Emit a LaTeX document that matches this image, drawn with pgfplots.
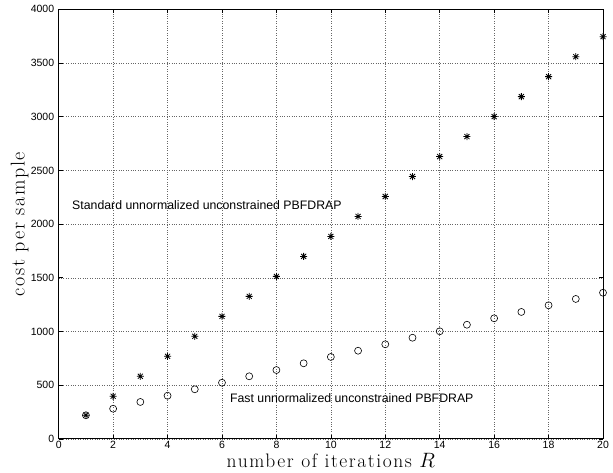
\documentclass[border=0pt]{standalone}
\usepackage{pgfplots}
\pgfplotsset{compat=1.18}
\usepackage{fontspec}
\setmainfont{Liberation Sans}
\newfontfamily\lmr[LetterSpace=8]{Latin Modern Roman}
\pgfdeclareplotmark{mstar}{%
  \pgfpathmoveto{\pgfqpoint{-\pgfplotmarksize}{0pt}}\pgfpathlineto{\pgfqpoint{\pgfplotmarksize}{0pt}}%
  \pgfpathmoveto{\pgfqpoint{0pt}{-\pgfplotmarksize}}\pgfpathlineto{\pgfqpoint{0pt}{\pgfplotmarksize}}%
  \pgfpathmoveto{\pgfqpoint{-0.72\pgfplotmarksize}{-0.72\pgfplotmarksize}}\pgfpathlineto{\pgfqpoint{0.72\pgfplotmarksize}{0.72\pgfplotmarksize}}%
  \pgfpathmoveto{\pgfqpoint{-0.72\pgfplotmarksize}{0.72\pgfplotmarksize}}\pgfpathlineto{\pgfqpoint{0.72\pgfplotmarksize}{-0.72\pgfplotmarksize}}%
  \pgfusepathqstroke}
\begin{document}
\begin{tikzpicture}
\useasboundingbox (-58.7pt,-34.1pt) rectangle (554.3pt,438.9pt);
\begin{axis}[
  at={(0pt,0pt)}, anchor=south west,
  scale only axis, width=544.3pt, height=429.6pt,
  xmin=0, xmax=20, ymin=0, ymax=4000,
  xtick={0,2,...,20}, ytick={0,500,...,4000},
  tick align=inside, major tick length=4pt,
  tick style={black, line width=0.6pt},
  axis line style={black, line width=0.9pt},
  grid=major, major grid style={dotted, gray!80!black, line width=0.5pt},
  ticklabel style={font=\fontsize{10.5}{12}\selectfont},
  /pgf/number format/assume math mode=true,
  /pgf/number format/1000 sep={},
  scaled y ticks=false,
  xlabel={\lmr\fontsize{19.5}{21}\selectfont number of iterations $R$},
  ylabel={\lmr\fontsize{20}{22}\selectfont cost per sample},
  xlabel style={at={(axis description cs:0.5,0)}, anchor=north, inner sep=0pt, yshift=-14.5pt},
  ylabel style={at={(axis description cs:0,0.5)}, anchor=south, inner sep=0pt, yshift=30pt},
  yticklabel style={xshift=-1pt},
  xticklabel style={yshift=1pt},
  clip=false,
]
\addplot[only marks, mark=mstar, mark size=3.5pt, mark options={line width=0.8pt}] coordinates {
(1,220) (2,397) (3,583) (4,769) (5,955) (6,1141) (7,1327) (8,1513) (9,1699) (10,1885)
(11,2071) (12,2257) (13,2443) (14,2629) (15,2815) (16,3001) (17,3187) (18,3373) (19,3559) (20,3745)};
\addplot[only marks, mark=o, mark size=3.5pt, mark options={line width=0.6pt}] coordinates {
(1,220) (2,281) (3,344) (4,402) (5,462) (6,523) (7,583) (8,641) (9,704) (10,763)
(11,821) (12,881) (13,942) (14,1002) (15,1063) (16,1123) (17,1182) (18,1244) (19,1303) (20,1361)};
\node[anchor=west, font=\fontsize{12.3}{14}\selectfont, inner sep=0pt] at (axis cs:0.49,2173) {Standard unnormalized unconstrained PBFDRAP};
\node[anchor=west, font=\fontsize{12.3}{14}\selectfont, inner sep=0pt] at (axis cs:6.29,384) {Fast unnormalized unconstrained PBFDRAP};
\end{axis}
\end{tikzpicture}
\end{document}
